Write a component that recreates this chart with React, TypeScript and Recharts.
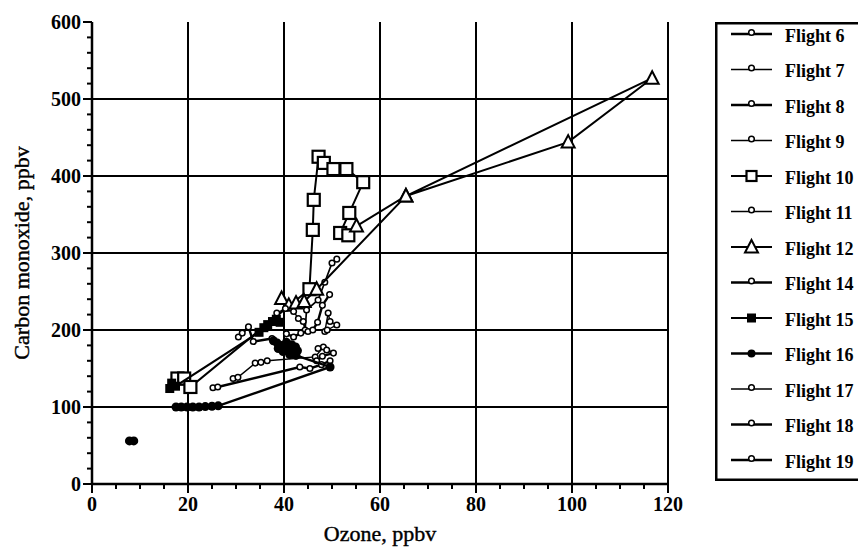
import React from "react";
import { ScatterChart, Scatter, XAxis, YAxis, ReferenceLine, Legend } from "recharts";

type Pt = { x: number; y: number };

// ozone (x) vs carbon monoxide (y)
const flight6: Pt[] = [
  { x: 25.2, y: 125 }, { x: 26.2, y: 126 }, { x: 43.3, y: 152 }, { x: 45.4, y: 150 }, { x: 47.8, y: 155 }, { x: 49.6, y: 160 },
];
const flight7: Pt[] = [
  { x: 29.4, y: 137 }, { x: 30.4, y: 138.5 }, { x: 34, y: 157 }, { x: 35.2, y: 158 }, { x: 36.5, y: 160 },
  { x: 46.5, y: 165 }, { x: 48.2, y: 178 }, { x: 47.1, y: 176 },
];
const flight8: Pt[] = [
  { x: 30.5, y: 191 }, { x: 31.3, y: 196 }, { x: 32.6, y: 204 }, { x: 33.6, y: 185 }, { x: 37.5, y: 189 },
];
const flight9: Pt[] = [
  { x: 44, y: 211 }, { x: 44.4, y: 200 }, { x: 44.7, y: 226 }, { x: 47.1, y: 239 }, { x: 48.5, y: 262 },
  { x: 50, y: 287 }, { x: 51, y: 292 },
];
const flight10: Pt[] = [
  { x: 17.8, y: 137 }, { x: 19.2, y: 137 }, { x: 20.5, y: 126 }, { x: 45.3, y: 253 }, { x: 46, y: 330 },
  { x: 46.2, y: 369 }, { x: 47.2, y: 425 }, { x: 48.3, y: 417 }, { x: 50.3, y: 409 }, { x: 53, y: 409 },
  { x: 56.5, y: 392 }, { x: 53.6, y: 352 }, { x: 51.7, y: 326 }, { x: 53.4, y: 323 },
];
const flight11: Pt[] = [
  { x: 48.5, y: 198 }, { x: 49.2, y: 222 }, { x: 49.6, y: 211 }, { x: 51, y: 206.5 }, { x: 49, y: 200 },
];
const flight12: Pt[] = [
  { x: 39.5, y: 241 }, { x: 41, y: 232 }, { x: 42.5, y: 235 }, { x: 44.2, y: 237 }, { x: 46.8, y: 253 },
  { x: 65.4, y: 374 }, { x: 116.7, y: 527 }, { x: 99.2, y: 444 }, { x: 65.4, y: 374 }, { x: 55.1, y: 335 },
];
const flight14: Pt[] = [
  { x: 48.9, y: 174 }, { x: 50.3, y: 170 }, { x: 48, y: 166 }, { x: 46.8, y: 160 },
];
const flight15: Pt[] = [
  { x: 16.2, y: 124 }, { x: 16.6, y: 131 }, { x: 17.4, y: 127 }, { x: 34.8, y: 197 }, { x: 35.8, y: 203 },
  { x: 36.6, y: 207 }, { x: 37.6, y: 211 }, { x: 38.4, y: 214 }, { x: 39.2, y: 210 },
];
const flight16Low: Pt[] = [{ x: 7.8, y: 56 }, { x: 8.7, y: 56 }];
const flight16: Pt[] = [
  { x: 17.5, y: 100 }, { x: 18.6, y: 100 }, { x: 19.8, y: 100 }, { x: 21, y: 100 }, { x: 22.3, y: 100 },
  { x: 23.6, y: 100.5 }, { x: 25, y: 101 }, { x: 26.3, y: 101.5 }, { x: 49.6, y: 152 }, { x: 42.5, y: 167 },
  { x: 41.8, y: 171 }, { x: 41, y: 174 }, { x: 40.2, y: 177 }, { x: 39.4, y: 180 }, { x: 38.6, y: 183 },
  { x: 37.8, y: 186 }, { x: 38.8, y: 176 }, { x: 40.5, y: 184 }, { x: 41.6, y: 181 }, { x: 42.4, y: 178 },
  { x: 41.2, y: 168 }, { x: 39.8, y: 172 }, { x: 42.8, y: 173 },
];
const flight17: Pt[] = [
  { x: 38.5, y: 222 }, { x: 40.3, y: 228 }, { x: 42, y: 224 }, { x: 43, y: 215 },
];
const flight18: Pt[] = [
  { x: 40.5, y: 195 }, { x: 42, y: 191 }, { x: 43.5, y: 196 }, { x: 45, y: 198 },
];
const flight19: Pt[] = [
  { x: 46, y: 200 }, { x: 47, y: 210 }, { x: 48, y: 232 }, { x: 49.5, y: 246 },
];

const xTicks = [0, 5, 10, 15, 20, 25, 30, 35, 40, 45, 50, 55, 60, 65, 70, 75, 80, 85, 90, 95, 100, 105, 110, 115, 120];
const yTicks = [0, 20, 40, 60, 80, 100, 120, 140, 160, 180, 200, 220, 240, 260, 280, 300, 320, 340, 360, 380, 400, 420, 440, 460, 480, 500, 520, 540, 560, 580, 600];
const xGrid = [20, 40, 60, 80, 100, 120];
const yGrid = [100, 200, 300, 400, 500];

const FONT = "'Liberation Serif', 'Times New Roman', serif";

type MarkerKind = "circle" | "square" | "triangle" | "fsquare" | "fcircle";

const drawMarker = (kind: MarkerKind, cx: number, cy: number, legend = false) => {
  switch (kind) {
    case "square": {
      const s = legend ? 5 : 6;
      return <rect x={cx - s} y={cy - s} width={s * 2} height={s * 2} fill="#fff" stroke="#000" strokeWidth={2.2} />;
    }
    case "triangle":
      return (
        <path
          d={`M${cx},${cy - 7} L${cx + 6.5},${cy + 5.5} L${cx - 6.5},${cy + 5.5} Z`}
          fill="#fff"
          stroke="#000"
          strokeWidth={2}
        />
      );
    case "fsquare":
      return <rect x={cx - 4.5} y={cy - 4.5} width={9} height={9} fill="#000" />;
    case "fcircle":
      return <circle cx={cx} cy={cy} r={legend ? 4 : 4.5} fill="#000" />;
    default:
      return <circle cx={cx} cy={legend ? cy - 1.5 : cy} r={2.8} fill="#fff" stroke="#000" strokeWidth={1.5} />;
  }
};

const series: { name: string; data: Pt[]; kind: MarkerKind; width: number }[] = [
  { name: "Flight 6", data: flight6, kind: "circle", width: 2.4 },
  { name: "Flight 7", data: flight7, kind: "circle", width: 1.4 },
  { name: "Flight 8", data: flight8, kind: "circle", width: 2.4 },
  { name: "Flight 9", data: flight9, kind: "circle", width: 1.7 },
  { name: "Flight 10", data: flight10, kind: "square", width: 2 },
  { name: "Flight 11", data: flight11, kind: "circle", width: 1.4 },
  { name: "Flight 12", data: flight12, kind: "triangle", width: 2 },
  { name: "Flight 14", data: flight14, kind: "circle", width: 2.4 },
  { name: "Flight 15", data: flight15, kind: "fsquare", width: 2 },
  { name: "Flight 16", data: flight16, kind: "fcircle", width: 2.4 },
  { name: "Flight 17", data: flight17, kind: "circle", width: 1.4 },
  { name: "Flight 18", data: flight18, kind: "circle", width: 2.4 },
  { name: "Flight 19", data: flight19, kind: "circle", width: 2.4 },
];

const XTick = (props: any) => {
  const { x, y, payload } = props;
  const major = payload.value % 20 === 0;
  return (
    <g>
      <line x1={x} x2={x} y1={y} y2={y + (major ? 9 : 5)} stroke="#000" strokeWidth={2} />
      {major && (
        <text x={x} y={y + 27} textAnchor="middle" fontSize={20} fontWeight="bold" fontFamily={FONT} fill="#000">
          {payload.value}
        </text>
      )}
    </g>
  );
};

const YTick = (props: any) => {
  const { x, y, payload } = props;
  const major = payload.value % 100 === 0;
  return (
    <g>
      <line x1={x - (major ? 9 : 5)} x2={x} y1={y} y2={y} stroke="#000" strokeWidth={2} />
      {major && (
        <text x={x - 11} y={y + 7} textAnchor="end" fontSize={20} fontWeight="bold" fontFamily={FONT} fill="#000">
          {payload.value}
        </text>
      )}
    </g>
  );
};

const renderLegend = () => (
  <svg width={147} height={459} style={{ display: "block" }}>
    <rect x={1.25} y={1.25} width={144.5} height={456.5} fill="#fff" stroke="#000" strokeWidth={2.5} />
    {series.map((s, i) => {
      const ly = 12 + i * 35.5;
      return (
        <g key={s.name}>
          <line x1={16} x2={57} y1={ly} y2={ly} stroke="#000" strokeWidth={s.width} />
          {drawMarker(s.kind, 36.5, ly, true)}
          <text x={70} y={ly + 7.5} fontSize={18} fontWeight="bold" fontFamily={FONT} fill="#000">
            {s.name}
          </text>
        </g>
      );
    })}
  </svg>
);

export default function App() {
  return (
    <ScatterChart width={858} height={540} margin={{ top: 14, right: 198, bottom: 0, left: 0 }}>
      <XAxis
        type="number"
        dataKey="x"
        domain={[0, 120]}
        ticks={xTicks}
        interval={0}
        tick={XTick}
        tickLine={false}
        tickSize={0}
        tickMargin={0}
        axisLine={{ stroke: "#000", strokeWidth: 2.5 }}
        height={64}
        label={{
          value: "Ozone, ppbv",
          position: "insideBottom",
          offset: 7,
          style: { fontSize: 22, fontFamily: FONT, fill: "#000", stroke: "#000", strokeWidth: 0.4 },
        }}
      />
      <YAxis
        type="number"
        dataKey="y"
        domain={[0, 600]}
        ticks={yTicks}
        interval={0}
        tick={YTick}
        tickLine={false}
        tickSize={0}
        tickMargin={0}
        axisLine={{ stroke: "#000", strokeWidth: 2.5 }}
        width={84}
        label={{
          value: "Carbon monoxide, ppbv",
          angle: -90,
          position: "insideLeft",
          offset: 13,
          style: { textAnchor: "middle", fontSize: 22, fontFamily: FONT, fill: "#000", stroke: "#000", strokeWidth: 0.4 },
        }}
      />
      {xGrid.map((v) => (
        <ReferenceLine key={"x" + v} x={v} stroke="#000" strokeWidth={2} />
      ))}
      {yGrid.map((v) => (
        <ReferenceLine key={"y" + v} y={v} stroke="#000" strokeWidth={2} />
      ))}
      {series.map((s) => (
        <Scatter
          key={s.name}
          name={s.name}
          data={s.data}
          line={{ stroke: "#000", strokeWidth: s.width }}
          lineType="joint"
          shape={(p: any) => drawMarker(s.kind, p.cx, p.cy)}
          isAnimationActive={false}
        />
      ))}
      <Scatter
        name="Flight 16 (low)"
        data={flight16Low}
        shape={(p: any) => drawMarker("fcircle", p.cx, p.cy)}
        isAnimationActive={false}
        legendType="none"
      />
      <Legend
        layout="vertical"
        align="center"
        verticalAlign="middle"
        content={renderLegend}
        wrapperStyle={{ left: 707, top: 14, width: 147, height: 459 }}
      />
    </ScatterChart>
  );
}
